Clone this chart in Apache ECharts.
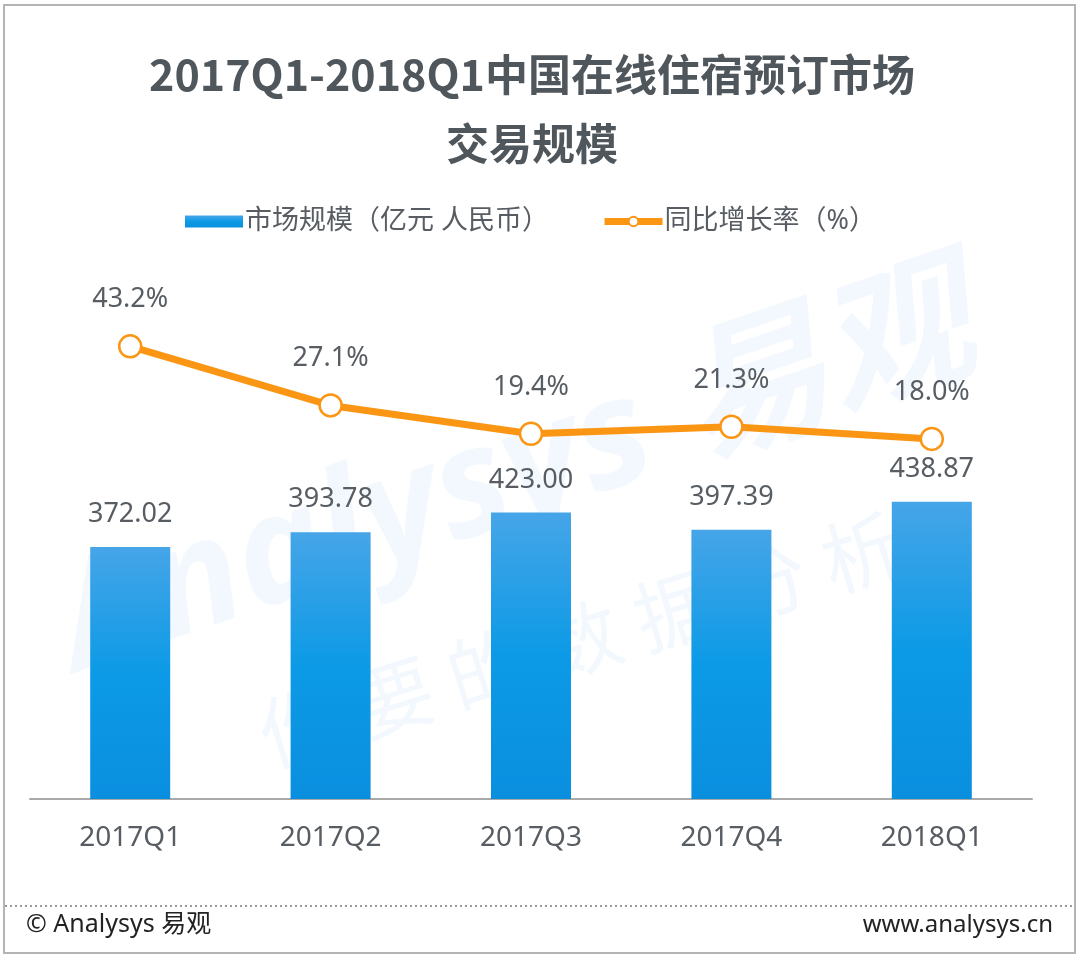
<!DOCTYPE html>
<html>
<head>
<meta charset="utf-8">
<script src="https://cdn.jsdelivr.net/npm/echarts@6/dist/echarts.min.js"></script>
<style>
    html, body { margin: 0; padding: 0; background: #fff; }
    #chart { width: 1080px; height: 956px; }
</style>
</head>
<body>
<div id="chart"></div>
<script>
// 季度
const quarters = ['2017Q1', '2017Q2', '2017Q3', '2017Q4', '2018Q1'];
// 市场规模（亿元 人民币）
const marketSize = [372.02, 393.78, 423.00, 397.39, 438.87];
// 同比增长率（%）
const growthRate = [43.2, 27.1, 19.4, 21.3, 18.0];

const FONT = '"Noto Sans", "Noto Sans CJK SC", sans-serif';
const TEXT_COLOR = '#575d62';
const ORANGE = '#fa9614';

const chart = echarts.init(document.getElementById('chart'));

chart.setOption({
    backgroundColor: '#fff',
    animation: false,
    title: {
        text: '2017Q1-2018Q1中国在线住宿预订市场\n交易规模',
        left: 527,
        textAlign: 'center',
        top: 35,
        textStyle: {
            fontFamily: '"Noto Sans CJK SC", sans-serif',
            fontSize: 43,
            fontWeight: 'bold',
            color: '#50575c',
            lineHeight: 69
        }
    },
    legend: {
        top: 208,
        left: 185,
        padding: 0,
        itemGap: 52,
        itemWidth: 58,
        itemHeight: 12,
        textStyle: {
            fontFamily: FONT,
            fontSize: 27,
            color: TEXT_COLOR,
            padding: [0, 0, 0, -3]
        },
        data: [
            { name: '市场规模（亿元 人民币）', icon: 'rect' },
            {
                name: '同比增长率（%）',
                lineStyle: { width: 7, color: ORANGE },
                itemStyle: { color: '#fff', borderColor: ORANGE, borderWidth: 2 }
            }
        ]
    },
    grid: {
        left: 30,
        right: 48,
        top: 257,
        bottom: 157,
        containLabel: false
    },
    xAxis: {
        type: 'category',
        data: quarters,
        axisTick: { show: false },
        axisLine: { lineStyle: { color: '#a9a9a9', width: 2 } },
        axisLabel: {
            fontFamily: FONT,
            fontSize: 28,
            color: TEXT_COLOR,
            margin: 25
        }
    },
    yAxis: [
        { type: 'value', min: 0, max: 800, show: false },
        { type: 'value', min: -80, max: 67.5, show: false }
    ],
    graphic: [
        // 水印
        {
            type: 'text',
            silent: true,
            z: -10,
            x: 40, y: 560,
            rotation: 0.33,
            style: {
                text: 'Analysys 易观',
                fontFamily: FONT,
                fontSize: 150,
                fontWeight: 'bold',
                fontStyle: 'italic',
                fill: 'rgba(0,120,210,0.05)'
            }
        },
        {
            type: 'text',
            silent: true,
            z: -10,
            x: 250, y: 700,
            rotation: 0.3,
            style: {
                text: '你 要 的 数 据 分 析',
                fontFamily: '"Noto Sans CJK SC", sans-serif',
                fontSize: 80,
                fill: 'rgba(0,120,210,0.05)'
            }
        },
        // 边框
        {
            type: 'rect',
            silent: true,
            shape: { x: 4, y: 5, width: 1071, height: 948 },
            style: { fill: 'none', stroke: '#b4b4b4', lineWidth: 2 }
        },
        {
            type: 'line',
            silent: true,
            shape: { x1: 5, y1: 906, x2: 1075, y2: 906 },
            style: { stroke: '#9a9a9a', lineWidth: 2, lineDash: [2, 3] }
        },
        {
            type: 'text',
            silent: true,
            x: 26, y: 925,
            style: {
                text: '© Analysys 易观',
                fontFamily: FONT,
                fontSize: 25,
                fill: '#222',
                verticalAlign: 'middle'
            }
        },
        {
            type: 'text',
            silent: true,
            x: 1053, y: 925,
            style: {
                text: 'www.analysys.cn',
                fontFamily: FONT,
                fontSize: 24,
                fill: '#222',
                align: 'right',
                verticalAlign: 'middle'
            }
        }
    ],
    series: [
        {
            name: '市场规模（亿元 人民币）',
            type: 'bar',
            data: marketSize,
            barWidth: 80,
            itemStyle: {
                color: new echarts.graphic.LinearGradient(0, 0, 0, 1, [
                    { offset: 0, color: '#46a5e8' },
                    { offset: 0.5, color: '#0c9ae6' },
                    { offset: 1, color: '#0a8fdf' }
                ])
            },
            label: {
                show: true,
                position: 'top',
                distance: 19,
                fontFamily: FONT,
                fontSize: 27,
                color: TEXT_COLOR,
                formatter: p => p.value.toFixed(2)
            }
        },
        {
            name: '同比增长率（%）',
            type: 'line',
            yAxisIndex: 1,
            data: growthRate,
            symbol: 'circle',
            symbolSize: 22,
            lineStyle: { color: ORANGE, width: 7 },
            itemStyle: { color: '#fff', borderColor: ORANGE, borderWidth: 2.5 },
            label: {
                show: true,
                position: 'top',
                distance: 21,
                fontFamily: FONT,
                fontSize: 27,
                color: TEXT_COLOR,
                formatter: p => p.value.toFixed(1) + '%'
            },
            z: 5
        }
    ]
});
</script>
</body>
</html>
